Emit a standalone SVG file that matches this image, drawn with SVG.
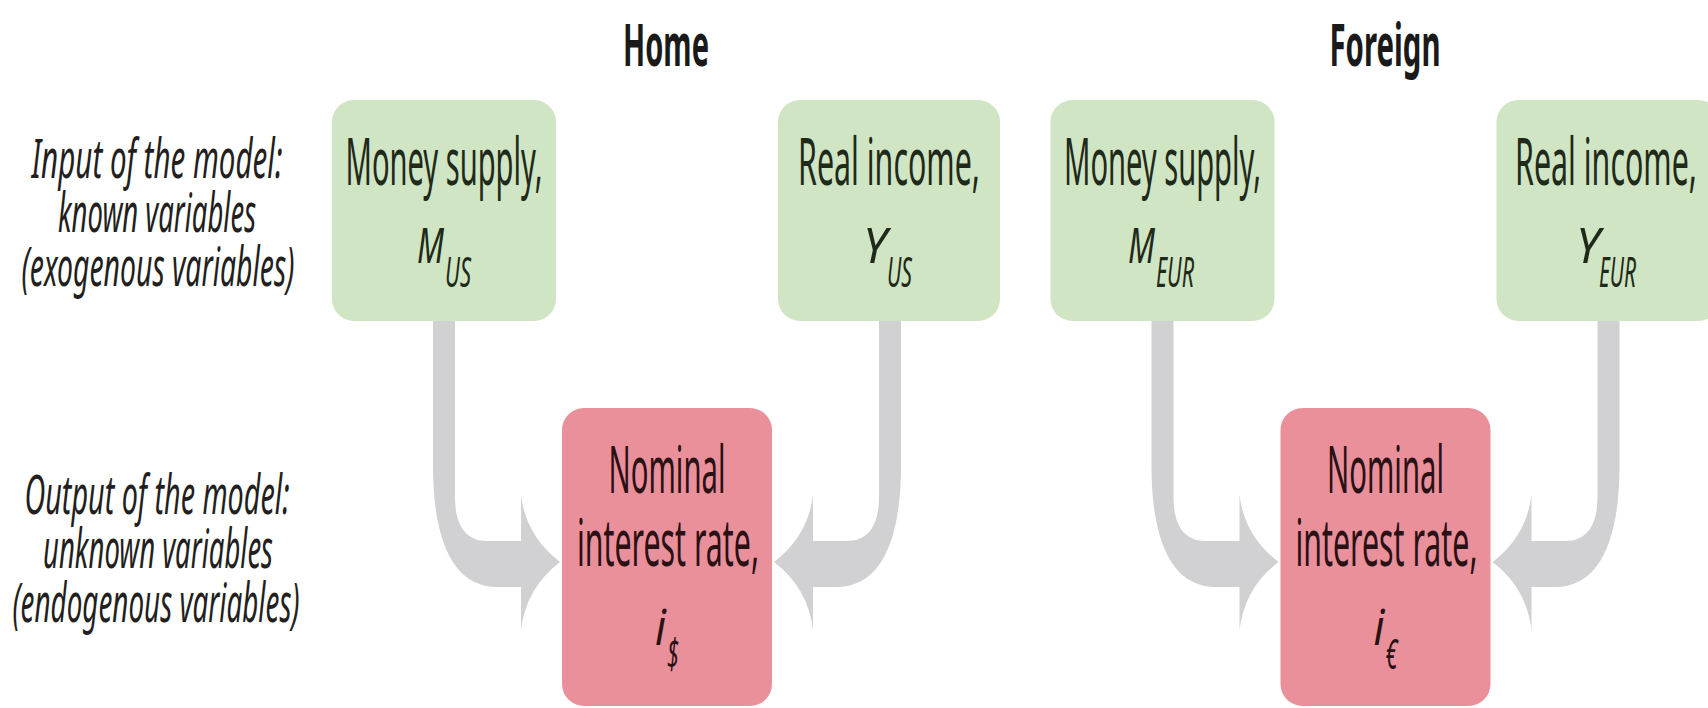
<svg xmlns="http://www.w3.org/2000/svg" width="1708" height="708" viewBox="0 0 1708 708">
<style>
  .title { font-family: "Noto Sans", "DejaVu Sans", sans-serif; font-weight: bold; font-size: 60px; fill: #1a1a1a; text-anchor: middle; }
  .lbl { font-family: "Noto Sans", "DejaVu Sans", sans-serif; font-style: italic; font-size: 54px; fill: #231f20; text-anchor: middle; }
  .box { font-family: "Noto Sans", "DejaVu Sans", sans-serif; font-size: 65px; fill: #1f2a1a; text-anchor: middle; }
  .var { font-family: "Noto Sans", "DejaVu Sans", sans-serif; font-style: italic; font-size: 50px; fill: #1f2a1a; }
  .sub { font-family: "Noto Sans", "DejaVu Sans", sans-serif; font-style: italic; font-size: 42px; fill: #1f2a1a; }
  .pk { fill: #2a1114; }
  .green { fill: #cfe5c3; }
  .pink { fill: #e9909b; }
  .arrow { fill: #d1d1d3; }
</style>
<rect width="1708" height="708" fill="#ffffff"/>

<g id="connectors">
  <path class="arrow" d="M 433 321 L 433 466 C 433 544 455 587 497 587 L 521 587 L 521 630 Q 526 588 560 562 Q 526 536 521 495 L 521 541 L 487 541 C 467 541 455 527 455 497 L 455 321 Z"/>
  <path class="arrow" d="M 901 321 L 901 466 C 901 544 879 587 837 587 L 813 587 L 813 630 Q 808 588 774 562 Q 808 536 813 495 L 813 541 L 847 541 C 867 541 879 527 879 497 L 879 321 Z"/>
  <g transform="translate(718.5,0)">
    <path class="arrow" d="M 433 321 L 433 466 C 433 544 455 587 497 587 L 521 587 L 521 630 Q 526 588 560 562 Q 526 536 521 495 L 521 541 L 487 541 C 467 541 455 527 455 497 L 455 321 Z"/>
    <path class="arrow" d="M 901 321 L 901 466 C 901 544 879 587 837 587 L 813 587 L 813 630 Q 808 588 774 562 Q 808 536 813 495 L 813 541 L 847 541 C 867 541 879 527 879 497 L 879 321 Z"/>
  </g>
</g>

<g id="title-home"><text class="title" x="666" y="66" textLength="86" lengthAdjust="spacingAndGlyphs">Home</text></g>
<g id="title-foreign"><text class="title" x="1385" y="66" textLength="111" lengthAdjust="spacingAndGlyphs">Foreign</text></g>

<g id="label-input">
  <text class="lbl" x="157" y="178" textLength="251" lengthAdjust="spacingAndGlyphs">Input of the model:</text>
  <text class="lbl" x="157" y="232" textLength="198" lengthAdjust="spacingAndGlyphs">known variables</text>
  <text class="lbl" x="158" y="286" textLength="273" lengthAdjust="spacingAndGlyphs">(exogenous variables)</text>
</g>
<g id="label-output">
  <text class="lbl" x="157" y="514" textLength="265" lengthAdjust="spacingAndGlyphs">Output of the model:</text>
  <text class="lbl" x="158" y="568" textLength="230" lengthAdjust="spacingAndGlyphs">unknown variables</text>
  <text class="lbl" x="156" y="622" textLength="287" lengthAdjust="spacingAndGlyphs">(endogenous variables)</text>
</g>

<g id="node-money-us">
  <rect class="green" x="332" y="100" width="224" height="221" rx="22"/>
  <text class="box" x="444" y="185" textLength="197" lengthAdjust="spacingAndGlyphs">Money supply,</text>
  <text class="var" x="417" y="263" textLength="27" lengthAdjust="spacingAndGlyphs">M</text>
  <text class="sub" x="445" y="287" textLength="26" lengthAdjust="spacingAndGlyphs">US</text>
</g>
<g id="node-income-us">
  <rect class="green" x="778" y="100" width="222" height="221" rx="22"/>
  <text class="box" x="889" y="185" textLength="182" lengthAdjust="spacingAndGlyphs">Real income,</text>
  <text class="var" x="863" y="263" textLength="24" lengthAdjust="spacingAndGlyphs">Y</text>
  <text class="sub" x="887" y="287" textLength="25" lengthAdjust="spacingAndGlyphs">US</text>
</g>
<g id="node-money-eur">
  <rect class="green" x="1050.5" y="100" width="224" height="221" rx="22"/>
  <text class="box" x="1162.5" y="185" textLength="197" lengthAdjust="spacingAndGlyphs">Money supply,</text>
  <text class="var" x="1128" y="263" textLength="27" lengthAdjust="spacingAndGlyphs">M</text>
  <text class="sub" x="1156" y="287" textLength="38" lengthAdjust="spacingAndGlyphs">EUR</text>
</g>
<g id="node-income-eur">
  <rect class="green" x="1496.5" y="100" width="224" height="221" rx="22"/>
  <text class="box" x="1606" y="185" textLength="182" lengthAdjust="spacingAndGlyphs">Real income,</text>
  <text class="var" x="1576" y="263" textLength="24" lengthAdjust="spacingAndGlyphs">Y</text>
  <text class="sub" x="1599" y="287" textLength="37" lengthAdjust="spacingAndGlyphs">EUR</text>
</g>

<g id="node-rate-home">
  <rect class="pink" x="562" y="408" width="210" height="298" rx="22"/>
  <text class="box pk" x="667" y="493" textLength="117" lengthAdjust="spacingAndGlyphs">Nominal</text>
  <text class="box pk" x="668" y="566" textLength="182" lengthAdjust="spacingAndGlyphs">interest rate,</text>
  <text class="var pk" x="655" y="645" textLength="11" lengthAdjust="spacingAndGlyphs">i</text>
  <text class="sub pk" x="667" y="669" textLength="12" lengthAdjust="spacingAndGlyphs">$</text>
</g>
<g id="node-rate-foreign">
  <rect class="pink" x="1280.5" y="408" width="210" height="298" rx="22"/>
  <text class="box pk" x="1385.5" y="493" textLength="117" lengthAdjust="spacingAndGlyphs">Nominal</text>
  <text class="box pk" x="1386.5" y="566" textLength="182" lengthAdjust="spacingAndGlyphs">interest rate,</text>
  <text class="var pk" x="1373.5" y="645" textLength="11" lengthAdjust="spacingAndGlyphs">i</text>
  <text class="sub pk" x="1385.5" y="669" textLength="12" lengthAdjust="spacingAndGlyphs">€</text>
</g>
</svg>
